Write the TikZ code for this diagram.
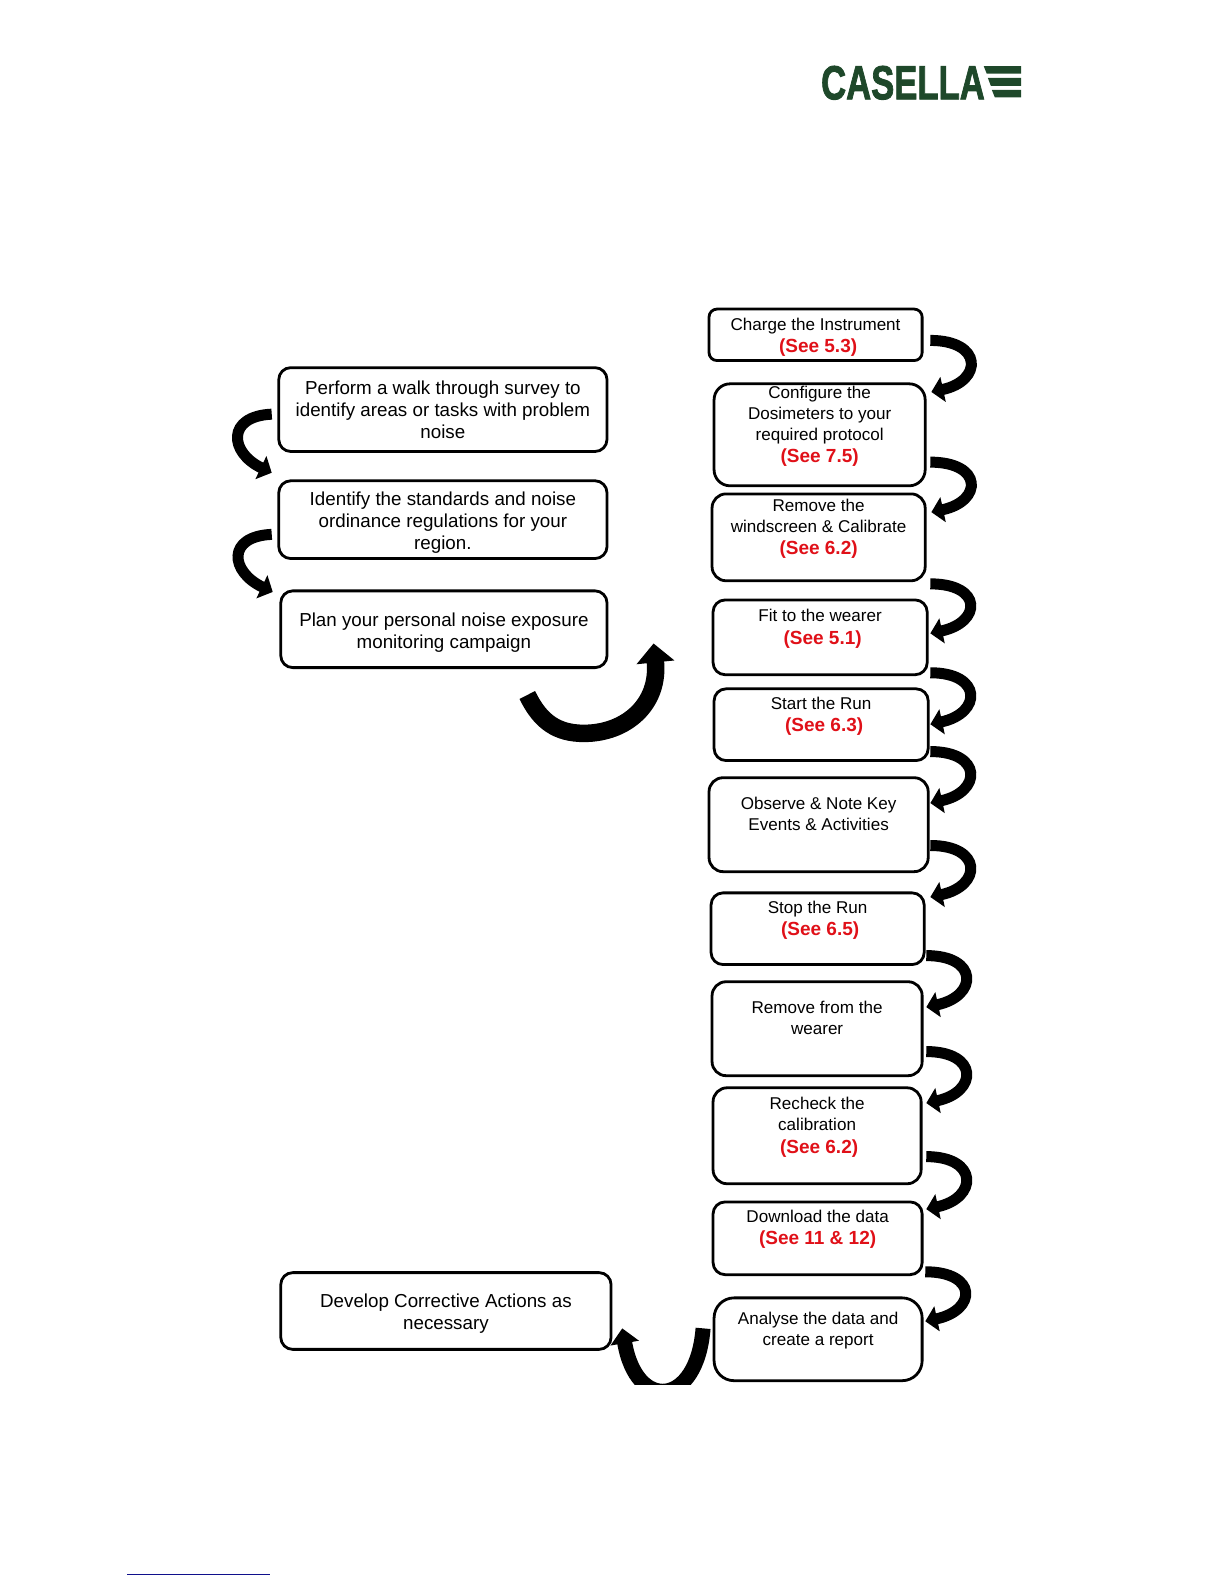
\documentclass[tikz,border=0pt]{standalone}
\usepackage{fontspec}
\setmainfont{Liberation Sans}
\newfontfamily\logofont[BoldFeatures={FakeBold=2}]{Liberation Sans}
\usetikzlibrary{arrows.meta}
\definecolor{seered}{RGB}{224,16,24}
\definecolor{logogreen}{RGB}{30,72,42}
\definecolor{footblue}{RGB}{16,16,140}
\tikzset{
  stepbox/.style={draw,line width=2.8pt,rounded corners=12pt,outer sep=0pt,inner sep=0pt,align=center},
  rightbox/.style={stepbox,font=\fontsize{16.9}{21}\selectfont},
  leftbox/.style={stepbox,font=\fontsize{18.6}{22}\selectfont,execute at begin node={\rule{0pt}{17.5pt}}},
  bendarrow/.style={line width=11pt,-{Triangle[length=12pt,width=25pt]}},
  bigarrow/.style={line width=17.5pt,-{Triangle[length=19pt,width=37pt]}},
  lowarrow/.style={line width=15pt,-{Triangle[length=15pt,width=28pt]}}
}
\newcommand{\seeref}[2][0]{\hspace*{#1pt}{\fontsize{18.8}{21}\selectfont\bfseries\color{seered}(See #2)}}
\begin{document}
\begin{tikzpicture}[x=1pt,y=-1pt,scale=1.01,transform shape]
  \useasboundingbox (0,0) rectangle (1211.9,1568.3);
  % logo
  \node (logo) [inner sep=0pt,text=logogreen] at (894,82)
    {\resizebox{162pt}{33pt}{\logofont\bfseries CASELLA}};
  \fill [logogreen] (974,65.5) -- (1011,65.5) -- (1011,73) -- (977,73) -- cycle;
  \fill [logogreen] (978,77) -- (1011,77) -- (1011,85) -- (981,85) -- cycle;
  \fill [logogreen] (982,89) -- (1011,89) -- (1011,96.5) -- (985,96.5) -- cycle;
  % left column
  \node (walk) [leftbox,minimum width=325pt,minimum height=83pt] at (438.5,405.5)
    {Perform a walk through survey to\\identify areas or tasks with problem\\noise};
  \node (standards) [leftbox,minimum width=325pt,minimum height=77pt] at (438.5,514.5)
    {\rule{0pt}{19pt}Identify the standards and noise\\ordinance regulations for your\\region.};
  \node (plan) [leftbox,minimum width=323pt,minimum height=76pt] at (439.5,623)
    {\rule{0pt}{19.5pt}Plan your personal noise exposure\\monitoring campaign};
  \node (develop) [leftbox,minimum width=327pt,minimum height=76pt] at (441.5,1298)
    {\rule{0pt}{19pt}Develop Corrective Actions as\\necessary};
  % right column
  \node (charge) [rightbox,rounded corners=8pt,minimum width=211pt,minimum height=51pt] at (807.5,331.5)
    {\rule{0pt}{17pt}Charge the Instrument\\[1pt]\seeref[5]{5.3}};
  \node (config) [rightbox,rounded corners=16pt,minimum width=209pt,minimum height=101pt] at (811.5,430.5)
    {Configure the\\Dosimeters to your\\required protocol\\[1pt]\seeref{7.5}\\~};
  \node (windscreen) [rightbox,rounded corners=14pt,minimum width=211pt,minimum height=86pt] at (810.5,532)
    {Remove the\\windscreen \& Calibrate\\\seeref{6.2}\\~};
  \node (fit) [rightbox,minimum width=212pt,minimum height=74pt] at (812,631)
    {Fit to the wearer\\[1pt]\seeref[5]{5.1}\\~};
  \node (startrun) [rightbox,minimum width=212pt,minimum height=71pt] at (813,717.5)
    {Start the Run\\[1pt]\seeref[6]{6.3}\\~};
  \node (observe) [rightbox,rounded corners=14pt,minimum width=217pt,minimum height=93pt] at (810.5,816.5)
    {Observe \& Note Key\\Events \& Activities\\~};
  \node (stoprun) [rightbox,minimum width=211pt,minimum height=71pt] at (809.5,919.5)
    {Stop the Run\\[1pt]\seeref[5]{6.5}\\~};
  \node (unfit) [rightbox,rounded corners=14pt,minimum width=208pt,minimum height=93pt] at (809,1018.5)
    {Remove from the\\wearer\\~};
  \node (recheck) [rightbox,rounded corners=14pt,minimum width=206pt,minimum height=95pt] at (809,1124.5)
    {Recheck the\\calibration\\[1pt]\seeref[4]{6.2}\\~};
  \node (download) [rightbox,minimum width=207pt,minimum height=72pt] at (809.5,1226)
    {Download the data\\[1pt]\seeref{11 \& 12}\\~};
  \node (analyse) [rightbox,rounded corners=20pt,minimum width=206pt,minimum height=82pt] at (810,1326)
    {Analyse the data and\\create a report\\~};
  % arrows down the left side
  \draw [bendarrow] ([shift={(-7,4.5)}]walk.west) .. controls +(-45,2) and +(-42,-20) .. ([shift={(-7,-8)}]standards.north west);
  \draw [bendarrow] ([shift={(-7,14.5)}]standards.west) .. controls +(-45,2) and +(-42,-20) .. ([shift={(-8,1)}]plan.north west);
  % arrows down the right side
  \draw [bendarrow] ([shift={(8,5.5)}]charge.east) .. controls +(52,0) and +(51,-11) .. ([shift={(6,8)}]config.north east);
  \draw [bendarrow] ([shift={(5,27)}]config.east) .. controls +(52,0) and +(51,-11) .. ([shift={(6,18)}]windscreen.north east);
  \draw [bendarrow] ([shift={(5,46)}]windscreen.east) .. controls +(52,0) and +(51,-11) .. ([shift={(3,33)}]fit.north east);
  \draw [bendarrow] ([shift={(3,35)}]fit.east) .. controls +(52,0) and +(51,-11) .. ([shift={(2,35)}]startrun.north east);
  \draw [bendarrow] ([shift={(2,26.5)}]startrun.east) .. controls +(52,0) and +(51,-11) .. ([shift={(2,25)}]observe.north east);
  \draw [bendarrow] ([shift={(2,20.5)}]observe.east) .. controls +(52,0) and +(51,-11) .. ([shift={(6,4)}]stoprun.north east);
  \draw [bendarrow] ([shift={(2,26.5)}]stoprun.east) .. controls +(52,0) and +(51,-11) .. ([shift={(4,25)}]unfit.north east);
  \draw [bendarrow] ([shift={(4,22.5)}]unfit.east) .. controls +(52,0) and +(51,-11) .. ([shift={(5,15)}]recheck.north east);
  \draw [bendarrow] ([shift={(5,20.5)}]recheck.east) .. controls +(52,0) and +(51,-11) .. ([shift={(4,7)}]download.north east);
  \draw [bendarrow] ([shift={(3,33)}]download.east) .. controls +(52,0) and +(51,-11) .. ([shift={(3,23)}]analyse.north east);
  % the two large arrows
  \coordinate (bigturn) at (578,726);
  \draw [bigarrow] ([shift={(-79,27)}]plan.south east) .. controls +(13,27) and +(-26,0) .. (bigturn)
    .. controls +(42,0) and +(6,60) .. ([shift={(-59,6)}]fit.west);
  \begin{scope}
    \clip (0,1200) rectangle (1211.9,1371);
    \draw [lowarrow] ([shift={(-11,-11)}]analyse.west) .. controls +(-6,78) and +(14,83) .. ([shift={(11,17)}]develop.east);
  \end{scope}
  % footer rule
  \draw [footblue,line width=1.4pt] (126,1559) -- (267,1559);
\end{tikzpicture}
\end{document}
